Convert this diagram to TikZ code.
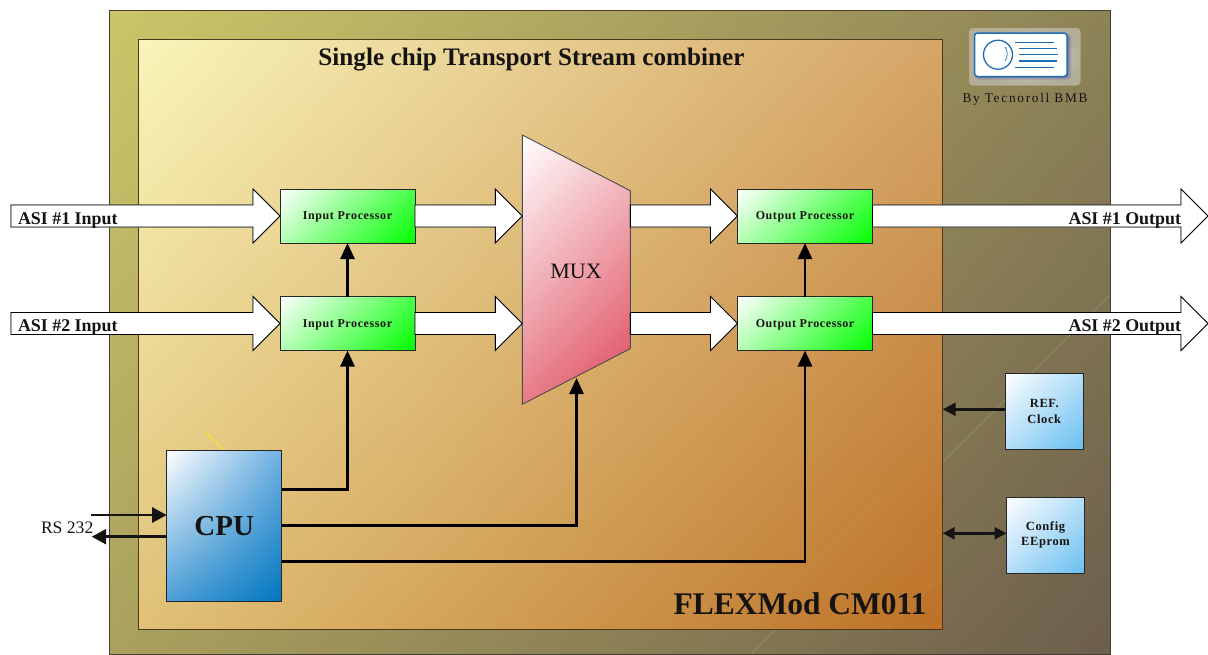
\documentclass[tikz,border=0pt]{standalone}
\usepackage{fontspec}
\setmainfont{Liberation Serif}
\newfontfamily\spaced[LetterSpace=5]{Liberation Serif}
\newfontfamily\spacedb[LetterSpace=13]{Liberation Serif}
\usetikzlibrary{arrows.meta,calc,shadings}
\definecolor{ink}{RGB}{22,20,18}
\definecolor{bluestroke}{RGB}{30,110,180}
\definecolor{oa}{RGB}{203,198,105}\definecolor{ob}{RGB}{141,131,87}\definecolor{oc}{RGB}{170,161,94}\definecolor{od}{RGB}{108,94,76}
\definecolor{oedge}{RGB}{70,62,48}
\definecolor{ia}{RGB}{249,245,185}\definecolor{ib}{RGB}{213,165,104}\definecolor{ic}{RGB}{224,193,119}\definecolor{id}{RGB}{188,113,38}
\definecolor{iedge}{RGB}{80,55,25}
\definecolor{ga}{RGB}{74,255,74}\definecolor{gb}{RGB}{181,255,181}\definecolor{gc}{RGB}{0,255,0}
\definecolor{ma}{RGB}{246,202,207}\definecolor{mb}{RGB}{231,124,136}\definecolor{mc}{RGB}{222,70,88}
\definecolor{ca}{RGB}{112,176,226}\definecolor{cb}{RGB}{78,158,214}\definecolor{cc}{RGB}{0,118,190}
\definecolor{la}{RGB}{180,222,248}\definecolor{lb}{RGB}{105,190,240}
\definecolor{logoin}{RGB}{232,229,220}\definecolor{logoout}{RGB}{178,174,152}\definecolor{logosh}{RGB}{105,90,160}
\newcommand{\fs}[1]{\fontsize{#1}{#1}\selectfont}
\newcommand{\boxtext}[1]{\raisebox{-3.5pt}[0pt][0pt]{#1}}
\newcommand{\blockarrow}[2]{%
  \draw[arrowshadow] let \p1=(#1),\p2=(#2) in
    (\x1,{\y2+11pt}) -- ({\x2-27pt},{\y2+11pt}) -- ({\x2-27pt},{\y2+27pt}) -- (\x2,\y2)
    -- ({\x2-27pt},{\y2-27pt}) -- ({\x2-27pt},{\y2-11pt}) -- (\x1,{\y2-11pt}) -- cycle;
  \draw[arrowbody] let \p1=(#1),\p2=(#2) in
    (\x1,{\y2+11pt}) -- ({\x2-27pt},{\y2+11pt}) -- ({\x2-27pt},{\y2+27pt}) -- (\x2,\y2)
    -- ({\x2-27pt},{\y2-27pt}) -- ({\x2-27pt},{\y2-11pt}) -- (\x1,{\y2-11pt}) -- cycle;}
\tikzset{
  every node/.style={inner sep=0pt,outer sep=0pt,text=ink,align=center},
  arrowbody/.style={fill=white,draw=black,line width=.9pt,line join=miter},
  arrowshadow/.style={draw=black!45,line width=.9pt,yshift=-.7pt,xshift=-.3pt},
  greenbox/.style={shade,draw=black!85,line width=.9pt,minimum width=135pt,minimum height=54pt,
    upper left=white,lower right=gc,upper right=ga,lower left=gb,
    font=\spaced\bfseries\fs{12}},
  lightblue/.style={shade,draw=black!85,line width=.9pt,minimum width=78pt,minimum height=76pt,
    upper left=white,lower right=lb,upper right=la,lower left=la,
    font=\spaced\bfseries\fs{12.5}},
  busline/.style={draw=black,line width=2.8pt,-{Triangle[length=16pt,width=14pt]}},
  sideline/.style={draw=ink,line width=2.6pt},
  sidetip/.style={{Triangle[length=13pt,width=13pt]}-},
  sidetiptwo/.style={{Triangle[length=12pt,width=12pt]}-{Triangle[length=12pt,width=12pt]}},
  rsline/.style={draw=ink,line width=2.7pt,-{Triangle[length=14.5pt,width=15pt]}},
  asilabel/.style={font=\bfseries\fs{17.9}},
  logoline/.style={draw=bluestroke,line width=1.4pt},
  glintout/.style={draw=white,opacity=.2,line width=.6pt},
  glint/.style={draw=white,opacity=.09,line width=.7pt}
}
\begin{document}
\begin{tikzpicture}[x=1pt,y=-1pt]
\useasboundingbox (0,0) rectangle (1208,654);
% outer panel
\shade[draw=oedge,line width=.9pt,upper left=oa,lower right=od,upper right=ob,lower left=oc]
  (109.5,10) rectangle (1110.5,654);
\draw[glintout] (1110,295) -- (751,654);
% inner panel
\shade[draw=iedge,line width=.9pt,upper left=ia,lower right=id,upper right=ib,lower left=ic]
  (138,39) rectangle (942,629);
\begin{scope}
  \clip (138,39) rectangle (942,629);
  \draw[glint] (528,39) -- (138,429);
  \draw[glint] (942,436) -- (749,629);
  \draw[glint] (942,575) -- (888,629);
\end{scope}
% titles
\node[font=\bfseries\fs{25.2}] (title) at (531.5,60) {Single chip Transport Stream combiner};
\node[font=\bfseries\fs{31.5}] (brand) at (800,604) {FLEXMod CM011};
% logo
\shade[rounded corners=4pt,inner color=logoin,outer color=logoout] (969,28) rectangle (1080.5,85.5);
\fill[rounded corners=4pt,logosh,opacity=.18] (975.5,34) rectangle (1071.5,80);
\fill[rounded corners=4pt,logosh,opacity=.3] (975.5,34) rectangle (1070,78.7);
\fill[rounded corners=4pt,logosh,opacity=.5] (975.5,34) rectangle (1068.7,77.7);
\draw[rounded corners=3pt,fill=white,draw=bluestroke,line width=1.5pt] (974.5,33) rectangle (1067,76.5);
\draw[draw=bluestroke,line width=1.3pt] (998,54.7) circle (14.5);
\draw[draw=bluestroke,line width=.7pt] (1005,47) .. controls (1008,51) and (1008,57) .. (1005,61);
\draw[logoline] (1015,42.3) -- (1054,42.3);
\draw[logoline] (1019.3,48.3) -- (1057,48.3);
\draw[logoline] (1019.3,54.3) -- (1058,54.3);
\draw[logoline] (1018.7,61) -- (1057,61);
\draw[logoline] (1015,67.3) -- (1054,67.3);
\node[font=\spacedb\fs{13.3}] (byline) at (1025,99) {By Tecnoroll BMB};
% yellow tick
\draw[yellow,line width=.7pt] (206,432.3) -- (223.3,449.5);
% boxes
\node[greenbox] (ip1) at (347.5,216) {\boxtext{Input Processor}};
\node[greenbox] (ip2) at (347.5,323.5) {\boxtext{Input Processor}};
\node[greenbox] (op1) at (805,216) {\boxtext{Output Processor}};
\node[greenbox] (op2) at (805,323.5) {\boxtext{Output Processor}};
% mux
\shade[draw=black!70,line width=.9pt,upper left=white,lower right=mc,upper right=ma,lower left=mb]
  (522.3,135) -- (630.3,190.7) -- (630.3,348.7) -- (522.3,404.3) -- cycle;
\node[font=\fs{22}] (mux) at (576,271.5) {MUX};
\coordinate (muxin1) at (522.3,216);
\coordinate (muxin2) at (522.3,323.5);
\coordinate (muxout1) at (630.3,216);
\coordinate (muxout2) at (630.3,323.5);
\coordinate (muxbottom) at (576.5,378);
% CPU
\node[shade,draw=black!85,line width=.9pt,minimum width=115pt,minimum height=151pt,
  upper left=white,lower right=cc,upper right=ca,lower left=cb,
  font=\bfseries\fs{29}] (cpu) at (224.2,525.7) {CPU};
% peripheral boxes
\node[lightblue] (ref) at (1044.3,411) {\raisebox{1pt}{REF.}\\[2.5pt]Clock};
\node[lightblue] (eep) at (1045.5,535.3) {Config\\[2.5pt]EEprom};
% free ends of block arrows
\coordinate (in1) at (11,216);
\coordinate (in2) at (11,323.5);
\coordinate (out1) at (1208,216);
\coordinate (out2) at (1208,323.5);
\blockarrow{in1}{ip1.west}
\blockarrow{in2}{ip2.west}
\blockarrow{ip1.east}{muxin1}
\blockarrow{ip2.east}{muxin2}
\blockarrow{muxout1}{op1.west}
\blockarrow{muxout2}{op2.west}
\blockarrow{op1.east}{out1}
\blockarrow{op2.east}{out2}
\node[asilabel,anchor=west] (l1) at (18,220) {ASI \#1 Input};
\node[asilabel,anchor=west] (l2) at (18,327.5) {ASI \#2 Input};
\node[asilabel,anchor=east] (l3) at (1181,220) {ASI \#1 Output};
\node[asilabel,anchor=east] (l4) at (1181,327.5) {ASI \#2 Output};
% control arrows
\draw[busline] (ip2.north) -- (ip1.south);
\draw[busline] (op2.north) -- (op1.south);
\coordinate (cpuA) at (281.7,489.3);
\coordinate (cpuB) at (281.7,525.5);
\coordinate (cpuC) at (281.7,561.8);
\draw[busline] (cpuA) -| (ip2.south);
\draw[busline] (cpuB) -| (muxbottom);
\draw[busline] (cpuC) -| (op2.south);
% RS 232
\coordinate (rsin) at (91,515);
\coordinate (rsout) at (91.7,536.7);
\coordinate (cpuin) at (166.7,515);
\coordinate (cpuout) at (166.7,536.7);
\draw[rsline] (rsin) -- (cpuin);
\draw[rsline] (cpuout) -- (rsout);
\node[font=\fs{17.6},anchor=west] (rs) at (41,527.5) {RS 232};
% peripheral links
\coordinate (edgeA) at (942.7,409.3);
\coordinate (edgeB) at (942.7,533.3);
\coordinate (refw) at (1005.3,409.3);
\coordinate (eepw) at (1006.5,533.3);
\draw[sideline,sidetip] (edgeA) -- (refw);
\draw[sideline,sidetiptwo] (edgeB) -- (eepw);
\end{tikzpicture}
\end{document}
